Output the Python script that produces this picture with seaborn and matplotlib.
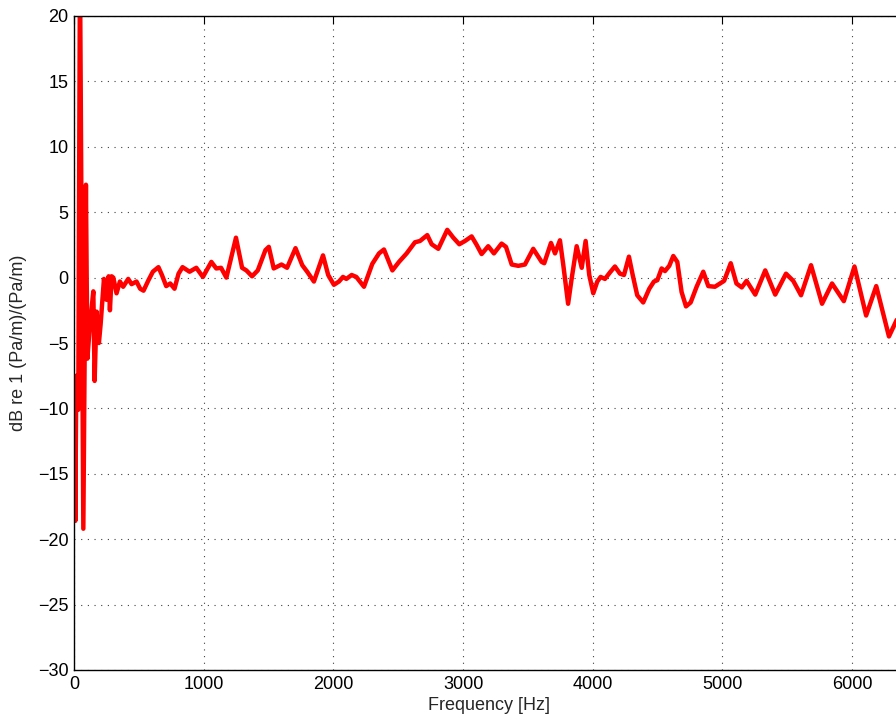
import matplotlib
matplotlib.use('Agg')
import matplotlib.pyplot as plt
import seaborn as sns
import pandas as pd

# values
freq = [5, 10, 18, 33, 46, 72, 92, 103, 123, 149, 159, 174, 192, 205, 231, 251,
        267, 277, 290, 303, 328, 354, 379, 418, 444, 482,
        510, 536, 574, 608, 651, 678, 711, 742, 775, 806, 837, 891, 943, 994,
        1059, 1097, 1134, 1175, 1249, 1296, 1329, 1373, 1417,
        1476, 1502, 1540, 1600, 1643, 1708, 1760, 1798, 1850, 1920, 1960, 2004,
        2043, 2074, 2100, 2141, 2177, 2236, 2300, 2352, 2390, 2455, 2506,
        2565, 2629, 2668, 2724, 2758, 2809, 2878, 2925, 2971, 3015, 3066, 3105,
        3143, 3194, 3238, 3297, 3331, 3375, 3426, 3477, 3541, 3606, 3626, 3678,
        3709, 3747,
        3773, 3810, 3837, 3876, 3915, 3945, 3973, 4004, 4035, 4061, 4094, 4133,
        4171, 4210, 4241, 4279, 4308, 4343, 4389, 4436, 4472, 4498, 4531, 4557,
        4590, 4621, 4652, 4685, 4719, 4755, 4801, 4852, 4891, 4942,
        5013, 5064, 5108, 5149, 5186, 5253, 5330, 5407, 5490, 5546, 5606, 5683,
        5768, 5845, 5936, 6018, 6108, 6186, 6284, 6343, 6420]
level = [-9.5, -18.6, -7.5, -10.1, 24.0, -19.2, 7.1, -6.2, -3.6, -1.05, -7.9,
         -2.6, -5.0, -3.6, -0.1, -1.7, 0.1, -2.5, 0.1, 0.0, -1.2, -0.3, -0.7,
         -0.1, -0.5, -0.3,
         -0.85, -1.0, -0.2, 0.45, 0.8, 0.2, -0.65, -0.45, -0.85, 0.3, 0.8, 0.45,
         0.75, 0.05, 1.2, 0.7, 0.75, 0.0, 3.05, 0.75, 0.55, 0.1, 0.55,
         2.1, 2.35, 0.7, 1.0, 0.75, 2.25, 0.95, 0.45, -0.3, 1.7, 0.2, -0.55,
         -0.3, 0.05, -0.1, 0.2, 0.05, -0.7, 1.05, 1.85, 2.15, 0.55, 1.2,
         1.85, 2.7, 2.8, 3.25, 2.55, 2.2, 3.65, 3.05, 2.55, 2.8, 3.15, 2.5,
         1.8, 2.4, 1.85, 2.6, 2.35, 1.0, 0.9, 1.0, 2.2, 1.2, 1.1, 2.65,
         1.85, 2.85,
         0.95, -2.0, -0.1, 2.4, 0.75, 2.8, 0.2, -1.2, -0.3, 0.05, -0.1, 0.4,
         0.85, 0.3, 0.2, 1.6, 0.2, -1.35, -1.9, -0.85, -0.3, -0.2, 0.7, 0.5,
         0.9, 1.65, 1.2, -1.1, -2.2, -1.9, -0.7, 0.45, -0.65, -0.7,
         -0.25, 1.1, -0.45, -0.75, -0.25, -1.3, 0.55, -1.3, 0.3, -0.25, -1.35,
         0.95, -2.0, -0.45, -1.8, 0.85, -2.9, -0.65, -4.5, -3.25, -2.6]

xticks = [0, 1000, 2000, 3000, 4000, 5000, 6000]
yticks = [-30, -25, -20, -15, -10, -5, 0, 5, 10, 15, 20]

df = pd.DataFrame({'freq': freq, 'level': level})

sns.set_style('white')
plt.rcParams['font.family'] = ['Liberation Sans', 'DejaVu Sans']

fig = plt.figure(figsize=(8.96, 7.24), dpi=100)
# axes run a little past the right edge, as in the reference crop
ax = fig.add_axes([74 / 896, 54 / 724, 830 / 896, 654 / 724])

sns.lineplot(data=df, x='freq', y='level', ax=ax, color='red', linewidth=3.2,
             estimator=None, sort=False)
ax.lines[0].set_solid_joinstyle('round')
ax.lines[0].set_solid_capstyle('round')

ax.set_xlim(0, 6400)
ax.set_ylim(-30, 20)
ax.set_xticks(xticks)
ax.set_yticks(yticks)
ax.grid(True, color='0.25', linestyle=(0, (1, 5)), linewidth=0.8)
ax.tick_params(direction='in', length=6, width=0.8, top=True, right=True,
               labelsize=13, pad=4, colors='black')
for s in ax.spines.values():
    s.set_color('black')
    s.set_linewidth(1.0)

ax.set_xlabel('Frequency [Hz]', fontsize=13, labelpad=3)
ax.set_ylabel('dB re 1 (Pa/m)/(Pa/m)', fontsize=13, labelpad=8)

fig.savefig('out.png', dpi=100)
